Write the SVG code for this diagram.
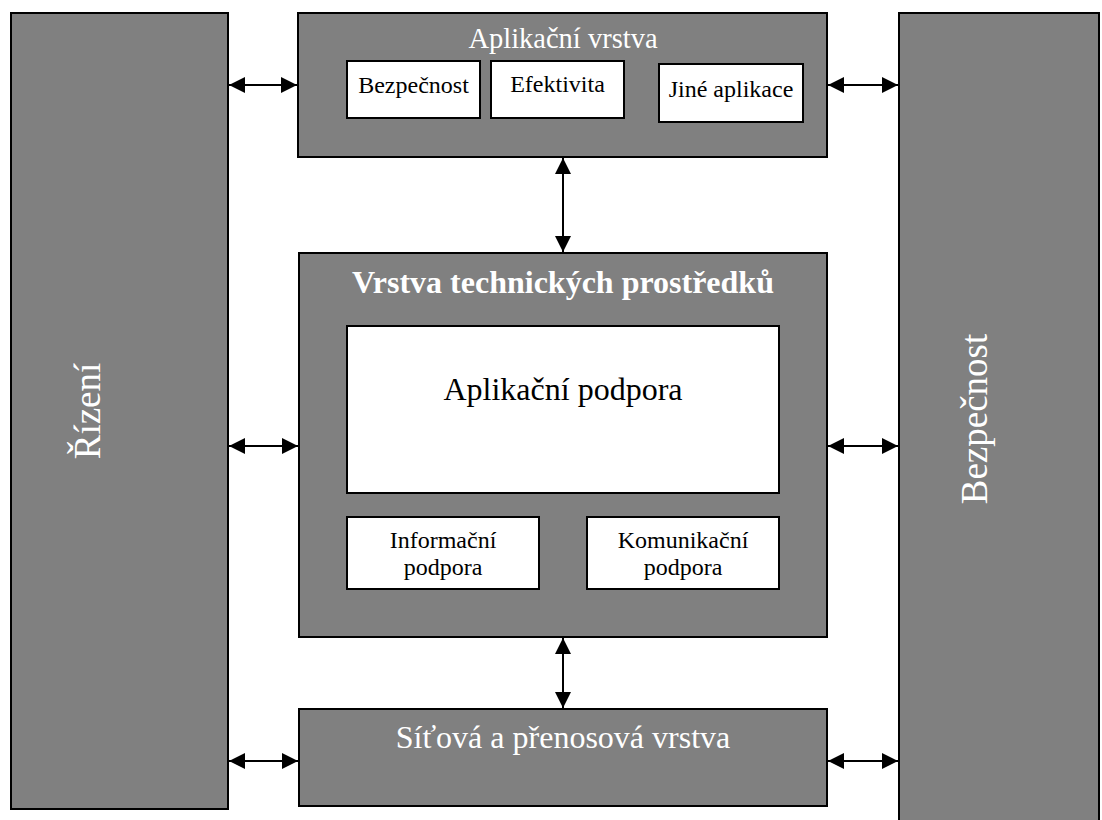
<svg xmlns="http://www.w3.org/2000/svg" width="1102" height="820" viewBox="0 0 1102 820">
<style>
.g{fill:#808080;stroke:#000;stroke-width:2}
.w{fill:#fff;stroke:#000;stroke-width:2}
.t{font-family:"Liberation Serif","Times New Roman",serif;text-anchor:middle}
.wt{fill:#fff}
.bt{fill:#000}
.c{stroke:#000;stroke-width:2;fill:none;marker-start:url(#ah);marker-end:url(#ah)}
</style>
<defs>
<marker id="ah" viewBox="0 0 16 16" refX="16" refY="8" markerWidth="16" markerHeight="16" markerUnits="userSpaceOnUse" orient="auto-start-reverse">
<path d="M0,0 L16,8 L0,16 z" fill="#000"/>
</marker>
</defs>
<g id="rizeni">
<rect class="g" x="11" y="13" width="217" height="796"/>
<text class="t wt" font-size="37" transform="translate(100,411) rotate(-90)">Řízení</text>
</g>
<g id="bezpecnost-side">
<rect class="g" x="899" y="13" width="200" height="820"/>
<text class="t wt" font-size="37" transform="translate(987,419) rotate(-90)">Bezpečnost</text>
</g>
<g id="aplikacni-vrstva">
<rect class="g" x="298" y="13" width="529" height="144"/>
<text class="t wt" x="563" y="48" font-size="28.5">Aplikační vrstva</text>
</g>
<g id="bezpecnost-app">
<rect class="w" x="347" y="61" width="133" height="57"/>
<text class="t bt" x="413.5" y="93" font-size="24">Bezpečnost</text>
</g>
<g id="efektivita">
<rect class="w" x="491" y="61" width="133" height="57"/>
<text class="t bt" x="557.5" y="92" font-size="24">Efektivita</text>
</g>
<g id="jine-aplikace">
<rect class="w" x="659" y="64" width="144" height="58"/>
<text class="t bt" x="731" y="97" font-size="24">Jiné aplikace</text>
</g>
<g id="vrstva-technickych-prostredku">
<rect class="g" x="299" y="253" width="528" height="384"/>
<text class="t wt" x="563" y="293" font-size="32" font-weight="bold">Vrstva technických prostředků</text>
</g>
<g id="aplikacni-podpora">
<rect class="w" x="347" y="326" width="432" height="167"/>
<text class="t bt" x="563" y="400" font-size="32">Aplikační podpora</text>
</g>
<g id="informacni-podpora">
<rect class="w" x="347" y="517" width="192" height="72"/>
<text class="t bt" x="443" y="548" font-size="24">Informační</text>
<text class="t bt" x="443" y="575" font-size="24">podpora</text>
</g>
<g id="komunikacni-podpora">
<rect class="w" x="587" y="517" width="192" height="72"/>
<text class="t bt" x="683" y="548" font-size="24">Komunikační</text>
<text class="t bt" x="683" y="575" font-size="24">podpora</text>
</g>
<g id="sitova-vrstva">
<rect class="g" x="299" y="709" width="528" height="97"/>
<text class="t wt" x="563" y="748" font-size="32">Síťová a přenosová vrstva</text>
</g>
<g id="connectors">
<line class="c" x1="229" y1="85" x2="297" y2="85"/>
<line class="c" x1="828" y1="85" x2="898" y2="85"/>
<line class="c" x1="563" y1="158" x2="563" y2="252"/>
<line class="c" x1="229" y1="446" x2="298" y2="446"/>
<line class="c" x1="828" y1="446" x2="898" y2="446"/>
<line class="c" x1="563" y1="638" x2="563" y2="708"/>
<line class="c" x1="229" y1="761" x2="298" y2="761"/>
<line class="c" x1="828" y1="761" x2="898" y2="761"/>
</g>
</svg>
